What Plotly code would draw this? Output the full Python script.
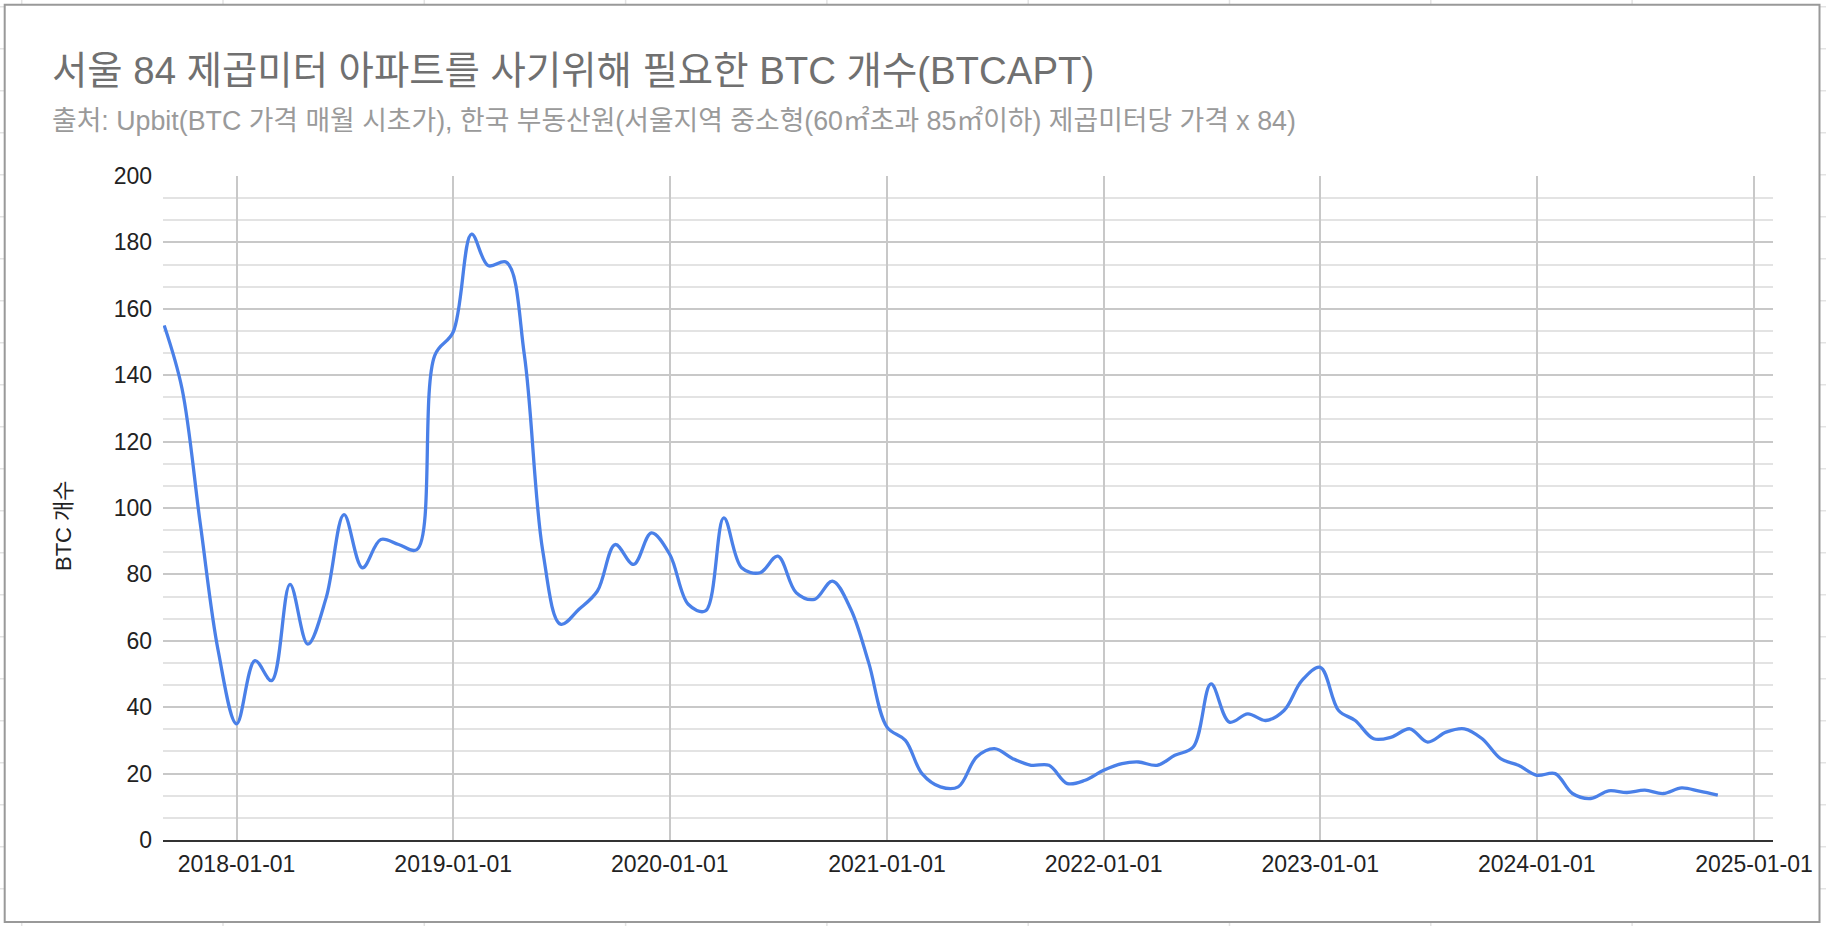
import pandas as pd
import plotly.graph_objects as go

# ---- data ----
start_month = "2017-09-01"
n_months = 87
btc_count = [
    155, 136, 95, 57,                                              # 2017-09..12
    35, 54, 48, 77, 59, 73, 98, 82, 90.5, 89, 87.5, 146,           # 2018
    153, 182.5, 173, 174, 146, 87, 65, 69.5, 75, 89, 83, 92.5,     # 2019
    86, 71, 69, 97, 82, 80.5, 85.5, 74.5, 72.5, 78, 69.5, 53.5,    # 2020
    34, 30, 20, 16, 16, 25, 27.5, 24.5, 22.5, 22.5, 17, 18,        # 2021
    21, 23, 23.5, 22.5, 25.5, 28, 47, 35.5, 38, 36, 39, 48,        # 2022
    52, 39, 36, 30.5, 31, 33.5, 29.5, 32.5, 33.5, 30.5, 24.5, 22.5,  # 2023
    19.5, 20, 14, 12.5, 14.8, 14.3, 15, 14, 15.7, 14.7, 13.5,      # 2024-01..11
]
dates = pd.date_range(start_month, periods=n_months, freq="MS")

title_text = "서울 84 제곱미터 아파트를 사기위해 필요한 BTC 개수(BTCAPT)"
subtitle_text = "출처: Upbit(BTC 가격 매월 시초가), 한국 부동산원(서울지역 중소형(60㎡초과 85㎡이하) 제곱미터당 가격 x 84)"
y_title = "BTC 개수"
y_ticks = list(range(0, 201, 20))

# ---- layout geometry (pixels) ----
W, H = 1826, 926
L, R, T, B = 163, 53, 176, 86
PW, PH = W - L - R, H - T - B

def px(x):
    return (x - L) / PW

def py(y):
    return (H - B - y) / PH

FONT = "Liberation Sans, Arial, Helvetica, Noto Sans CJK KR, sans-serif"

fig = go.Figure()
fig.add_trace(go.Scatter(
    x=dates, y=btc_count, mode="lines",
    line=dict(color="#4a80e8", width=3.3, shape="spline", smoothing=1),
    showlegend=False, hoverinfo="x+y",
))

shapes = []
# spreadsheet cell lines peeking around the chart
for k in range(0, 23):
    yy = 6.7 + 42 * k
    shapes.append(dict(type="line", xref="paper", yref="paper", layer="below",
                       x0=px(0), x1=px(W), y0=py(yy), y1=py(yy),
                       line=dict(color="#e3e3e3", width=1.5)))
for k in range(0, 10):
    xx = 21.7 + 201.3 * k
    shapes.append(dict(type="line", xref="paper", yref="paper", layer="below",
                       x0=px(xx), x1=px(xx), y0=py(0), y1=py(H),
                       line=dict(color="#e3e3e3", width=1.5)))
# chart frame
shapes.append(dict(type="rect", xref="paper", yref="paper", layer="below",
                   x0=px(4.7), x1=px(1819.5), y0=py(4.7), y1=py(922),
                   fillcolor="white", line=dict(color="#999999", width=2)))
fig.update_layout(shapes=shapes)

fig.add_annotation(text=title_text, xref="paper", yref="paper",
                   x=px(50), y=py(70), xanchor="left", yanchor="middle",
                   showarrow=False, font=dict(family=FONT, size=38.4, color="#707070"))
fig.add_annotation(text=subtitle_text, xref="paper", yref="paper",
                   x=px(50), y=py(121), xanchor="left", yanchor="middle",
                   showarrow=False, font=dict(family=FONT, size=26.8, color="#9a9a9a"))
fig.add_annotation(text=y_title, xref="paper", yref="paper",
                   x=px(63), y=py(526), xanchor="center", yanchor="middle",
                   textangle=-90, showarrow=False,
                   font=dict(family=FONT, size=22, color="#222222"))

fig.update_layout(
    width=W, height=H,
    margin=dict(l=L, r=R, t=T, b=B, pad=0),
    paper_bgcolor="white", plot_bgcolor="white",
    font=dict(family=FONT, size=23, color="#222222"),
    xaxis=dict(
        type="date",
        range=["2017-08-30", "2025-02-02"],
        tick0="2018-01-01", dtick="M12", tickformat="%Y-%m-%d",
        showgrid=True, gridcolor="#c8c8c8", gridwidth=1.5,
        showline=True, linecolor="#333333", linewidth=2,
        zeroline=False, ticks="", ticklabelstandoff=2,
        tickfont=dict(family=FONT, size=23, color="#222222"),
    ),
    yaxis=dict(
        range=[0, 200], tickmode="array", tickvals=y_ticks,
        showgrid=True, gridcolor="#c8c8c8", gridwidth=1.5,
        zeroline=False, showline=False, ticks="", ticklabelstandoff=10,
        tickfont=dict(family=FONT, size=23, color="#222222"),
        minor=dict(tick0=0, dtick=20 / 3, showgrid=True,
                   gridcolor="#e3e3e3", gridwidth=1.5),
    ),
)

fig.write_html("out.html")
